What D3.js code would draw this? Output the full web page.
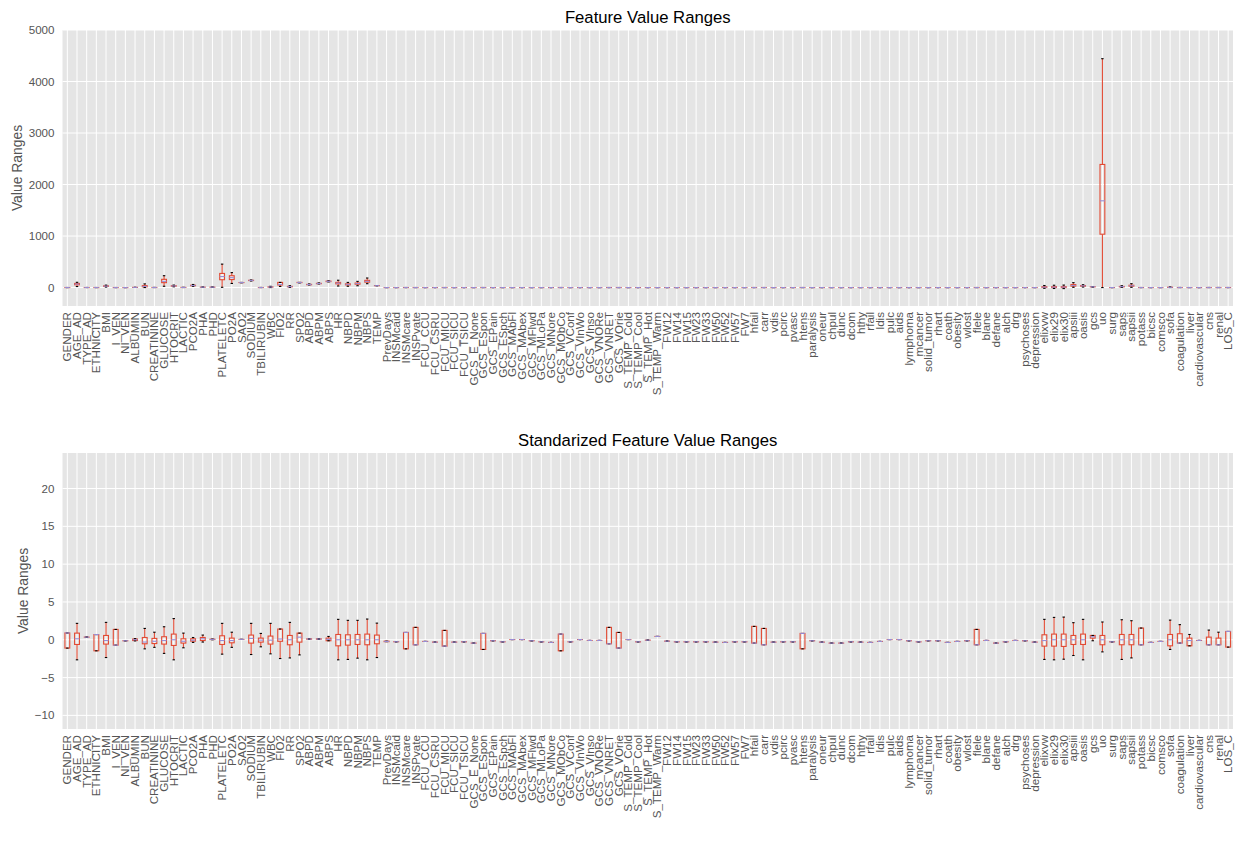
<!DOCTYPE html>
<html>
<head>
<meta charset="utf-8">
<script src="https://cdn.jsdelivr.net/npm/d3@7"></script>
<style>
  body { margin: 0; background: #fff; }
  text { font-family: "Liberation Sans", Arial, sans-serif; }
</style>
</head>
<body>
<div id="chart"></div>
<script>
// feature names (x categories)
var features = ["GENDER","AGE_AD","TYPE_AD","ETHNICITY","BMI","I_VEN","NI_VEN","ALBUMIN","BUN","CREATININE",
  "GLUCOSE","HTOCRIT","LACTIC","PCO2A","PHA","PHD","PLATELETC","PO2A","SAO2","SODIUM",
  "TBILIRUBIN","WBC","FIO2","RR","SPO2","ABPD","ABPM","ABPS","HR","NBPD",
  "NBPM","NBPS","TEMP","PrevDays","INSMcaid","INSMcare","INSPvate","FCU_CCU","FCU_CSRU","FCU_MICU",
  "FCU_SICU","FCU_TSICU","GCS_E_None","GCS_ESpon","GCS_EPain","GCS_ESpch","GCS_MAbFl","GCS_MAbex","GCS_MFlwd","GCS_MLoPa",
  "GCS_MNore","GCS_MObCo","GCS_VConf","GCS_VInWo","GCS_VInso","GCS_VNORe","GCS_VNRET","GCS_VOrie","S_TEMP_Cold","S_TEMP_Cool",
  "S_TEMP_Hot","S_TEMP_Warm","FW12","FW14","FW15","FW23","FW33","FW50","FW52","FW57",
  "FW7","hfail","carr","vdis","pcirc","pvasc","htens","paralysis","oneur","chpul",
  "dunc","dcom","hthy","rfail","ldis","pulc","aids","lymphoma","mcancer","solid_tumor",
  "rhart","coath","obesity","wlost","flele","blane","defane","alch","drg","psychoses",
  "depression","elixvw","elix29","elix30","apsiii","oasis","gcs","uo","surg","saps",
  "sapsii","potass","bicsc","comsco","sofa","coagulation","liver","cardiovascular","cns","renal",
  "LOS_C"];

// raw value box stats (top panel)
var rawLo = [0,20,1,0,10,0,0,2.4,0,0.2, 25,15,0.3,25,7.2,7.3,5,80,92,128,
  0,0,21,5,90,50,70,110,30,25, 35,75,35,0,0,0,0,0,0,0,
  0,0,0,0,0,0,0,0,0,0, 0,0,0,0,0,0,0,0,0,0,
  0,0,0,0,0,0,0,0,0,0, 0,0,0,0,0,0,0,0,0,0,
  0,0,0,0,0,0,0,0,0,0, 0,0,0,0,0,0,0,0,0,0,
  0,-14,-18,-20,5,10,12,0,0,5, 5,0,0,0,0,0,0,0,0,0, 0];
var rawQ1 = [0,54,1,0,24,0,0,2.8,14,0.8, 95,27,1.2,35,7.3,7.35,152,155,96,136,
  0.4,8,50,15,96,55,75,115,72,52, 65,105,36.5,0,0,0,0,0,0,0,
  0,0,0,0,0,0,0,0,0,0, 0,0,0,0,0,0,0,0,0,0,
  0,0,0,0,0,0,0,0,0,0, 0,0,0,0,0,0,0,0,0,0,
  0,0,0,0,0,0,0,0,0,0, 0,0,0,0,0,0,0,0,0,0,
  0,1,0,0,28,27,14,1036,0,14, 27,0,0,0,2,0,0,0,0,0, 0];
var rawMed = [1,67,1,1,28,0,0,3.1,22,1.0, 120,31,1.8,40,7.37,7.38,214,192,97,139,
  0.7,11,60,19,98,58,78,120,86,62, 77,120,37,0,0,1,0,0,0,0,
  0,0,0,1,0,0,0,0,0,0, 0,1,0,0,0,0,0,0,0,0,
  0,0,0,0,0,0,0,0,0,0, 0,0,0,0,0,0,1,0,0,0,
  0,0,0,0,0,0,0,0,0,0, 0,0,0,0,0,0,0,0,0,0,
  0,8,8,9,40,33,14.5,1684,0,18, 36,0,0,0,4,0,0,0,0,0, 1];
var rawQ3 = [1,80,1,1,33,1,0,3.4,37,1.6, 160,36,2.7,45,7.42,7.4,274,230,98,141,
  1.2,14,100,23,100,62,82,125,100,72, 88,140,37.5,0,0,1,1,0,0,1,
  0,0,0,1,0,0,0,0,0,0, 0,1,0,0,0,0,1,1,0,0,
  0,0,0,0,0,0,0,0,0,0, 0,1,1,0,0,0,1,0,0,0,
  0,0,0,0,0,0,0,0,0,0, 0,0,0,0,1,0,0,0,0,0,
  0,17,17,18,58,39,15,2390,0,22, 45,1,0,0,6,1,0,0,1,1, 1];
var rawHi = [1,102,1,1,47,1,0,3.8,71,2.9, 230,48,5,60,7.55,7.45,455,290,100,147,
  2.3,24,100,35,100,70,90,130,142,100, 120,185,39,0,0,1,1,0,0,1,
  0,0,0,1,0,0,0,0,0,0, 0,1,0,0,0,0,1,1,0,0,
  0,0,0,0,0,0,0,0,0,0, 0,1,1,0,0,0,1,0,0,0,
  0,0,0,0,0,0,0,0,0,0, 0,0,0,0,1,0,0,0,0,0,
  0,40,45,48,95,55,15,4443,0,35, 75,1,0,0,12,2,1,0,2,2, 1];

// standardized box stats (bottom panel)
var stdLo = [-1.1,-2.65,0.35,-1.46,-2.35,-0.71,-0.13,-0.15,-1.2,-1.0,
  -1.8,-2.65,-1.06,-0.35,-0.3,0,-1.9,-1.0,0.05,-1.95,
  -0.93,-1.86,-2.48,-2.4,-2.0,0.05,0.05,-0.13,-2.65,-2.6,
  -2.43,-2.65,-2.35,-0.25,-0.26,-1.2,-0.66,-0.22,-0.31,-0.84,
  -0.31,-0.27,-0.44,-1.28,-0.13,-0.27,0.03,0.03,-0.13,-0.27,
  -0.35,-1.46,-0.27,0.03,-0.09,-0.09,-0.53,-1.1,0.03,-0.27,
  -0.05,0.44,-0.18,-0.27,-0.27,-0.27,-0.27,-0.31,-0.35,-0.27,
  -0.27,-0.44,-0.66,-0.31,-0.27,-0.27,-1.2,-0.13,-0.31,-0.44,
  -0.44,-0.27,-0.31,-0.35,-0.22,0.03,0.03,-0.13,-0.27,-0.13,
  -0.13,-0.35,-0.22,-0.13,-0.66,-0.09,-0.44,-0.27,-0.09,-0.13,
  -0.31,-2.6,-2.65,-2.57,-2.08,-2.65,-0.13,-1.6,-0.27,-2.6,
  -2.4,-0.66,-0.35,-0.22,-1.28,-0.44,-0.8,-0.09,-0.66,-0.66,
  -0.97];
var stdQ1 = [-1.1,-0.62,0.35,-1.46,-0.57,-0.71,-0.13,-0.1,-0.53,-0.5,
  -0.57,-0.75,-0.44,-0.18,-0.1,0.03,-0.62,-0.4,0.05,-0.44,
  -0.31,-0.57,-0.2,-0.66,-0.31,0.08,0.08,-0.13,-0.8,-0.71,
  -0.62,-0.66,-0.53,-0.25,-0.26,-1.2,-0.66,-0.22,-0.31,-0.84,
  -0.31,-0.27,-0.44,-1.28,-0.13,-0.27,0.03,0.03,-0.13,-0.27,
  -0.35,-1.46,-0.27,0.03,-0.09,-0.09,-0.53,-1.1,0.03,-0.27,
  -0.05,0.44,-0.18,-0.27,-0.27,-0.27,-0.27,-0.31,-0.35,-0.27,
  -0.27,-0.44,-0.66,-0.31,-0.27,-0.27,-1.2,-0.13,-0.31,-0.44,
  -0.44,-0.27,-0.31,-0.35,-0.22,0.03,0.03,-0.13,-0.27,-0.13,
  -0.13,-0.35,-0.22,-0.13,-0.66,-0.09,-0.44,-0.27,-0.09,-0.13,
  -0.31,-0.84,-0.84,-0.88,-0.62,-0.62,0.22,-0.66,-0.27,-0.66,
  -0.66,-0.66,-0.35,-0.22,-0.8,-0.44,-0.8,-0.09,-0.66,-0.66,
  -0.97];
var stdMed = [0.9,0.13,0.35,0.69,-0.1,-0.71,-0.13,0,-0.3,-0.2,
  -0.1,0,-0.2,-0.05,0.13,0.05,-0.1,-0.1,0.05,0.18,
  -0.05,-0.05,0.1,0,0.35,0.1,0.1,0.05,0,0,
  0,0,0,-0.22,-0.26,0.97,-0.66,-0.22,-0.31,-0.84,
  -0.31,-0.27,-0.44,0.84,-0.13,-0.27,0.03,0.03,-0.13,-0.27,
  -0.35,0.75,-0.27,0.03,-0.09,-0.09,-0.53,-1.1,0.03,-0.27,
  -0.05,0.44,-0.18,-0.27,-0.27,-0.27,-0.27,-0.31,-0.35,-0.27,
  -0.27,-0.44,-0.66,-0.31,-0.27,-0.27,0.84,-0.13,-0.31,-0.44,
  -0.44,-0.27,-0.31,-0.35,-0.22,0.03,0.03,-0.13,-0.27,-0.13,
  -0.13,-0.35,-0.22,-0.13,-0.66,-0.09,-0.44,-0.27,-0.09,-0.13,
  -0.31,-0.1,0,0,0,0,0.4,0,-0.27,0,
  0,-0.66,-0.35,-0.22,0,-0.44,-0.1,-0.09,-0.66,-0.66,
  1.1];
var stdQ3 = [0.9,0.88,0.35,0.69,0.57,1.37,-0.13,0.1,0.3,0.18,
  0.4,0.75,0.13,0.13,0.3,0.08,0.53,0.22,0.05,0.62,
  0.22,0.49,1.42,0.57,0.88,0.12,0.12,0.22,0.7,0.66,
  0.7,0.75,0.62,-0.18,-0.26,0.97,1.64,-0.22,-0.31,1.24,
  -0.31,-0.27,-0.44,0.84,-0.13,-0.27,0.03,0.03,-0.13,-0.27,
  -0.35,0.75,-0.27,0.03,-0.09,-0.09,1.64,0.97,0.03,-0.27,
  -0.05,0.44,-0.18,-0.27,-0.27,-0.27,-0.27,-0.31,-0.35,-0.27,
  -0.27,1.77,1.5,-0.31,-0.27,-0.27,0.84,-0.13,-0.31,-0.44,
  -0.44,-0.27,-0.31,-0.35,-0.22,0.03,0.03,-0.13,-0.27,-0.13,
  -0.13,-0.35,-0.22,-0.13,1.37,-0.09,-0.44,-0.27,-0.09,-0.13,
  -0.31,0.66,0.75,0.75,0.57,0.75,0.57,0.57,-0.27,0.7,
  0.7,1.55,-0.35,-0.22,0.7,0.8,0.22,-0.09,0.35,0.22,
  1.1];
var stdHi = [0.9,2.17,0.35,0.69,2.3,1.37,-0.13,0.15,1.5,1.0,
  1.72,2.8,0.88,0.3,0.62,0.1,2.17,1.0,0.05,2.17,
  0.84,2.17,1.42,2.3,0.88,0.15,0.15,0.44,2.7,2.57,
  2.57,2.74,2.2,-0.18,-0.26,0.97,1.64,-0.22,-0.31,1.24,
  -0.31,-0.27,-0.44,0.84,-0.13,-0.27,0.03,0.03,-0.13,-0.27,
  -0.35,0.75,-0.27,0.03,-0.09,-0.09,1.64,0.97,0.03,-0.27,
  -0.05,0.44,-0.18,-0.27,-0.27,-0.27,-0.27,-0.31,-0.35,-0.27,
  -0.27,1.77,1.5,-0.31,-0.27,-0.27,0.84,-0.13,-0.31,-0.44,
  -0.44,-0.27,-0.31,-0.35,-0.22,0.03,0.03,-0.13,-0.27,-0.13,
  -0.13,-0.35,-0.22,-0.13,1.37,-0.09,-0.44,-0.27,-0.09,-0.13,
  -0.31,2.7,2.96,3.0,2.26,2.7,0.57,2.35,-0.27,2.65,
  2.52,1.55,-0.35,-0.22,2.6,2.0,0.7,-0.09,1.28,1.0,
  1.1];

var topTicks = [0, 1000, 2000, 3000, 4000, 5000];
var bottomTicks = [-10, -5, 0, 5, 10, 15, 20];

var width = 1241, height = 852;
var margin = {left: 62.5, right: 1233};

var svg = d3.select("#chart")
  .append("svg")
    .attr("width", width)
    .attr("height", height);

function drawPanel(p) {
  var x = d3.scaleBand().domain(features).range([margin.left, margin.right]);
  var y = d3.scaleLinear().domain(p.yDomain).range([p.bottom, p.top]);
  var bw = x.bandwidth();
  var g = svg.append("g");

  // grey background
  g.append("rect")
    .attr("x", margin.left).attr("y", p.top)
    .attr("width", margin.right - margin.left).attr("height", p.bottom - p.top)
    .attr("fill", "#E5E5E5");

  // grid lines
  g.selectAll(".vgrid").data(features).enter().append("line")
    .attr("x1", d => x(d) + bw / 2).attr("x2", d => x(d) + bw / 2)
    .attr("y1", p.top).attr("y2", p.bottom)
    .attr("stroke", "#fff").attr("stroke-width", 1);
  g.selectAll(".hgrid").data(p.ticks).enter().append("line")
    .attr("x1", margin.left).attr("x2", margin.right)
    .attr("y1", d => y(d)).attr("y2", d => y(d))
    .attr("stroke", "#fff").attr("stroke-width", 1);

  // y tick labels
  g.selectAll(".ytick").data(p.ticks).enter().append("text")
    .attr("x", margin.left - 8).attr("y", d => y(d))
    .attr("dy", "0.35em")
    .attr("text-anchor", "end")
    .attr("font-size", "11.6px")
    .attr("fill", "#555")
    .text(d => d < 0 ? "\u2212" + Math.abs(d) : d);

  // x tick labels (rotated)
  g.selectAll(".xtick").data(features).enter().append("text")
    .attr("transform", d => "translate(" + (x(d) + bw / 2) + "," + (p.bottom + 6) + ") rotate(-90)")
    .attr("dy", "0.35em")
    .attr("text-anchor", "end")
    .attr("font-size", "11.6px")
    .attr("fill", "#555")
    .text(d => d);

  // title + y label
  g.append("text")
    .attr("x", (margin.left + margin.right) / 2).attr("y", p.top - 7)
    .attr("text-anchor", "middle")
    .attr("font-size", "16.7px")
    .attr("fill", "#000")
    .text(p.title);
  g.append("text")
    .attr("transform", "translate(" + p.ylabelX + "," + ((p.top + p.bottom) / 2) + ") rotate(-90)")
    .attr("dy", "0.35em")
    .attr("text-anchor", "middle")
    .attr("font-size", "13.9px")
    .attr("fill", "#555")
    .text("Value Ranges");

  var rows = features.map((f, i) => ({
    key: f, lo: p.lo[i], q1: p.q1[i], med: p.med[i], q3: p.q3[i], hi: p.hi[i]
  }));
  var boxW = bw * 0.5, capW = bw * 0.25;
  var b = g.selectAll(".box").data(rows).enter().append("g");
  var cx = d => x(d.key) + bw / 2;

  // box
  b.append("rect")
    .attr("x", d => cx(d) - boxW / 2)
    .attr("y", d => y(d.q3))
    .attr("width", boxW)
    .attr("height", d => Math.max(0.01, y(d.q1) - y(d.q3)))
    .attr("fill", "none").attr("stroke", "#E24A33").attr("stroke-width", 1.1);
  // whiskers
  b.append("line")
    .attr("x1", cx).attr("x2", cx)
    .attr("y1", d => y(d.q1)).attr("y2", d => y(d.lo))
    .attr("stroke", "#E24A33").attr("stroke-width", 1.1);
  b.append("line")
    .attr("x1", cx).attr("x2", cx)
    .attr("y1", d => y(d.q3)).attr("y2", d => y(d.hi))
    .attr("stroke", "#E24A33").attr("stroke-width", 1.1);
  // caps
  b.append("line")
    .attr("x1", d => cx(d) - capW / 2).attr("x2", d => cx(d) + capW / 2)
    .attr("y1", d => y(d.lo)).attr("y2", d => y(d.lo))
    .attr("stroke", "#000").attr("stroke-width", 1.1);
  b.append("line")
    .attr("x1", d => cx(d) - capW / 2).attr("x2", d => cx(d) + capW / 2)
    .attr("y1", d => y(d.hi)).attr("y2", d => y(d.hi))
    .attr("stroke", "#000").attr("stroke-width", 1.1);
  // median
  b.append("line")
    .attr("x1", d => cx(d) - boxW / 2).attr("x2", d => cx(d) + boxW / 2)
    .attr("y1", d => y(d.med)).attr("y2", d => y(d.med))
    .attr("stroke", "#988ED5").attr("stroke-width", 1.1);
}

drawPanel({
  title: "Feature Value Ranges",
  top: 30, bottom: 306, yDomain: [-358, 5000], ticks: topTicks, ylabelX: 17,
  lo: rawLo, q1: rawQ1, med: rawMed, q3: rawQ3, hi: rawHi
});

drawPanel({
  title: "Standarized Feature Value Ranges",
  top: 453, bottom: 729, yDomain: [-11.8, 24.7], ticks: bottomTicks, ylabelX: 23,
  lo: stdLo, q1: stdQ1, med: stdMed, q3: stdQ3, hi: stdHi
});
</script>
</body>
</html>
